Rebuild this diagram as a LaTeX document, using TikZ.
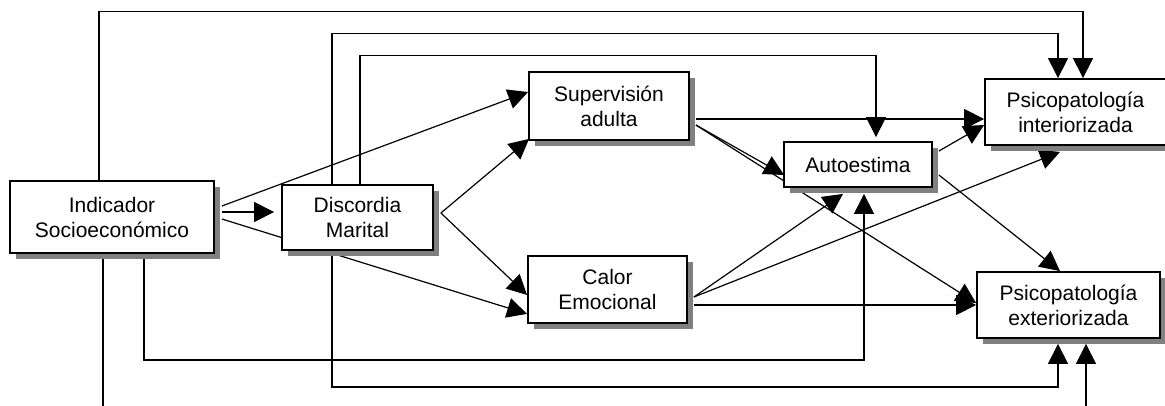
\documentclass[tikz,border=0pt]{standalone}
\usepackage{fontspec}
\setmainfont{Liberation Sans}
\usetikzlibrary{arrows.meta,shadows}
\pgfdeclarelayer{bg}
\pgfsetlayers{bg,main}
\begin{document}
\begin{tikzpicture}[x=1pt,y=-1pt,
 box/.style={draw, line width=1.8pt, fill=white, align=center, inner sep=0pt,
   font=\fontsize{21}{25}\selectfont,
   drop shadow={shadow xshift=6pt, shadow yshift=-6pt, fill=black!50, opacity=1}},
 arr/.style={line width=1.2pt, -{Triangle[length=20pt,width=20pt]}}]
\clip (0,0) rectangle (1165,405);
\node[box, minimum width=204pt, minimum height=72pt] (ind) at (112,217) {Indicador\\Socioeconómico};
\node[box, minimum width=151pt, minimum height=65pt] (dis) at (357.5,217.5) {Discordia\\Marital};
\node[box, minimum width=160pt, minimum height=68pt] (sup) at (609,106) {Supervisión\\adulta};
\node[box, minimum width=159pt, minimum height=67pt] (cal) at (607.5,289.5) {Calor\\Emocional};
\node[box, minimum width=148pt, minimum height=45pt] (aut) at (858,164.5) {Autoestima};
\node[box, minimum width=181pt, minimum height=66pt] (pint) at (1075.5,112) {Psicopatología\\interiorizada};
\node[box, minimum width=183pt, minimum height=66pt] (pext) at (1068.5,305) {Psicopatología\\exteriorizada};
\begin{pgfonlayer}{bg}
% routed connectors
\draw[arr] ([xshift=-13pt]ind.north) |- ([xshift=7.5pt,yshift=67pt]pint.north) -- ([xshift=7.5pt]pint.north);
\draw[arr] ([xshift=-25.5pt]dis.north) |- ([xshift=-17.5pt,yshift=45pt]pint.north) -- ([xshift=-17.5pt]pint.north);
\draw[arr] ([xshift=2.5pt]dis.north) |- ([xshift=18pt,yshift=86pt]aut.north) -- ([xshift=18pt,yshift=4pt]aut.north);
\draw[arr] ([xshift=32pt]ind.south) |- ([xshift=6pt,yshift=-172pt]aut.south) -- ([xshift=6pt,yshift=-6pt]aut.south);
\draw[arr] ([xshift=-25.5pt]dis.south) |- ([xshift=-10.5pt,yshift=-48pt]pext.south) -- ([xshift=-10.5pt,yshift=-5pt]pext.south);
\draw[arr] ([xshift=-9pt]ind.south) |- ([xshift=17.5pt,yshift=-77pt]pext.south) -- ([xshift=17.5pt,yshift=-5pt]pext.south);
% straight connectors
\draw[arr] ([xshift=7pt,yshift=11pt]ind.east) -- ([yshift=14pt]sup.west);
\draw[arr] ([xshift=7pt,yshift=5pt]ind.east) -- ([xshift=-7pt,yshift=5.5pt]dis.west);
\draw[arr] ([xshift=7pt,yshift=-2pt]ind.east) -- ([yshift=10pt]cal.south west);
\draw[arr] ([xshift=7pt,yshift=4.5pt]dis.east) -- ([xshift=1pt,yshift=2pt]sup.south west);
\draw[arr] ([xshift=7pt,yshift=4.5pt]dis.east) -- ([yshift=-5.5pt]cal.west);
\draw[arr] ([xshift=6pt,yshift=-13pt]sup.east) -- ([yshift=-7pt]pint.west);
\draw[arr] ([xshift=6pt,yshift=-19pt]sup.east) -- ([xshift=1pt,yshift=-10.5pt]aut.west);
\draw[arr] ([xshift=6pt,yshift=-19pt]sup.east) -- ([yshift=2pt]pext.west);
\draw[arr] ([xshift=6pt,yshift=-7.5pt]cal.east) -- ([xshift=-15pt,yshift=-6pt]aut.south);
\draw[arr] ([xshift=6pt,yshift=-7.5pt]cal.east) -- ([xshift=-15.5pt,yshift=-6pt]pint.south);
\draw[arr] ([xshift=6pt,yshift=-15.5pt]cal.east) -- (pext.west);
\draw[arr] ([xshift=6pt,yshift=13.5pt]aut.east) -- ([yshift=-13pt]pint.west);
\draw[arr] ([xshift=6pt,yshift=-10.5pt]aut.east) -- ([xshift=-8.5pt]pext.north);
\end{pgfonlayer}
\end{tikzpicture}
\end{document}
